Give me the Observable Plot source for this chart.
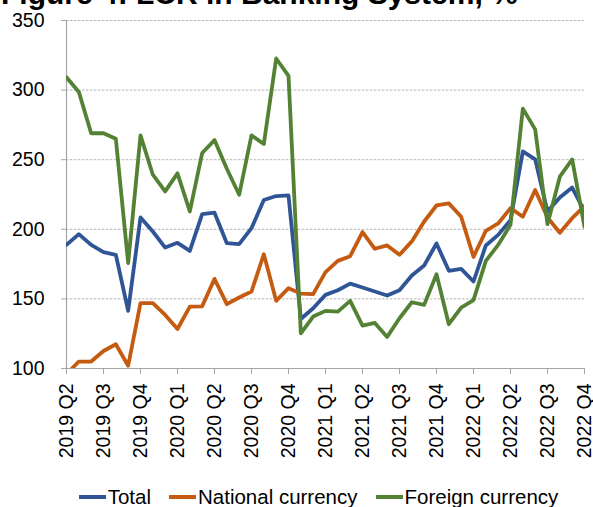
<!DOCTYPE html>
<html>
<head>
<meta charset="utf-8">
<script src="https://cdn.jsdelivr.net/npm/d3@7"></script>
<script src="https://cdn.jsdelivr.net/npm/@observablehq/plot@0.6"></script>
<style>
  html, body { margin: 0; padding: 0; background: #fff; }
  #wrap { position: relative; width: 593px; height: 507px; overflow: hidden; font-family: "Liberation Sans", Arial, sans-serif; }
  #title { position: absolute; left: 1px; top: -21px; font-size: 30px; font-weight: bold; line-height: 30px; white-space: nowrap; color: #000; }
  #chart { position: absolute; left: 0; top: 0; }
  #legend { position: absolute; left: 0; top: 485px; width: 593px; display: flex; justify-content: center; gap: 18px; font-size: 20.5px; color: #000; padding-left: 44px; box-sizing: border-box; }
  .item { display: flex; align-items: center; gap: 2px; }
  .sw { display: inline-block; width: 27px; height: 4px; }
</style>
</head>
<body>
<div id="wrap">
  <div id="chart"></div>
  <div id="title">Figure 4: LCR in Banking System, %</div>
  <div id="legend"></div>
</div>
<script>
const quarterLabels = ["2019 Q2","2019 Q3","2019 Q4","2020 Q1","2020 Q2","2020 Q3","2020 Q4",
  "2021 Q1","2021 Q2","2021 Q3","2021 Q4","2022 Q1","2022 Q2","2022 Q3","2022 Q4"];

const seriesNames = ["Total", "National currency", "Foreign currency"];
const seriesColors = ["#2f5597", "#c55a11", "#548235"];

const total = [188.8,196.5,188.8,183.6,181.7,141.4,208.5,198.4,186.9,190.3,184.5,
  210.9,211.9,190.0,189.3,200.8,221.0,223.9,224.3,135.6,143.3,
  152.9,156.2,161.0,158.2,155.3,152.4,156.2,166.8,174.0,189.8,
  170.2,171.6,162.5,188.4,196.0,206.6,256.0,250.2,212.8,222.9,230.0,212.8];

const national = [96,105,105,112.6,117.4,102,147,147,138.5,128.4,144.5,
  144.7,164.4,146.2,151.0,155.3,182.1,148.6,157.7,153.8,153.4,
  169.2,177.3,180.7,198.0,186.0,188.4,181.7,191.3,205.6,217.1,
  218.6,209.0,180.2,198.9,204.2,215.2,209.0,228.2,208.5,197.5,208.0,216.7];

const foreign = [309.2,298.7,269,269,265,175.7,267.5,239.2,227.2,240.2,212.8,
  254.8,264.1,243.5,224.8,267.5,261.3,322.7,310.2,125.3,137.3,
  141.4,140.9,148.6,130.8,132.7,122.7,136.1,147.6,145.7,167.7,
  131.8,143.8,149.1,177.3,188.8,203.2,286.7,271.8,203.7,237.8,250.2,201.8];

const yTicks = [100,150,200,250,300,350];

const allSeries = [total, national, foreign];
const data = [];
allSeries.forEach((vals, s) => vals.forEach((v, i) => data.push({i, v, s: seriesNames[s]})));

const axisColor = "#a6a6a6";
const plot = Plot.plot({
  width: 593,
  height: 480,
  marginLeft: 66,
  marginRight: 9,
  marginTop: 20,
  marginBottom: 112,
  style: {fontFamily: "Liberation Sans, Arial, sans-serif", fontSize: "19px", color: "#000", background: "transparent"},
  x: {domain: [0, quarterLabels.length * 3 - 3], label: null},
  y: {domain: [100, 350], label: null},
  color: {domain: seriesNames, range: seriesColors},
  marks: [
    Plot.ruleY(yTicks.slice(1), {stroke: "#b4b4b4", strokeDasharray: "2.5,1.5", strokeWidth: 1}),
    Plot.ruleX([0], {stroke: axisColor, strokeWidth: 1.2}),
    Plot.ruleY([100], {stroke: axisColor, strokeWidth: 1.2}),
    Plot.axisY({ticks: yTicks, tickSize: 5, tickPadding: 17, stroke: axisColor, fontSize: 19.5, tickFormat: d => d, label: null}),
    Plot.axisX({ticks: d3.range(0, quarterLabels.length * 3, 3), tickFormat: i => quarterLabels[i / 3],
      tickRotate: -90, tickSize: 6, tickPadding: 9, stroke: axisColor, fontSize: 19.5, label: null}),
    Plot.line(data, {x: "i", y: "v", z: "s", stroke: "s", strokeWidth: 3.8,
      strokeLinejoin: "round", strokeLinecap: "round", clip: true})
  ]
});
document.getElementById("chart").appendChild(plot);

const legend = document.getElementById("legend");
seriesNames.forEach((name, k) => {
  const it = document.createElement("div");
  it.className = "item";
  const sw = document.createElement("span");
  sw.className = "sw";
  sw.style.background = seriesColors[k];
  const t = document.createElement("span");
  t.textContent = name;
  it.appendChild(sw); it.appendChild(t);
  legend.appendChild(it);
});
</script>
</body>
</html>
